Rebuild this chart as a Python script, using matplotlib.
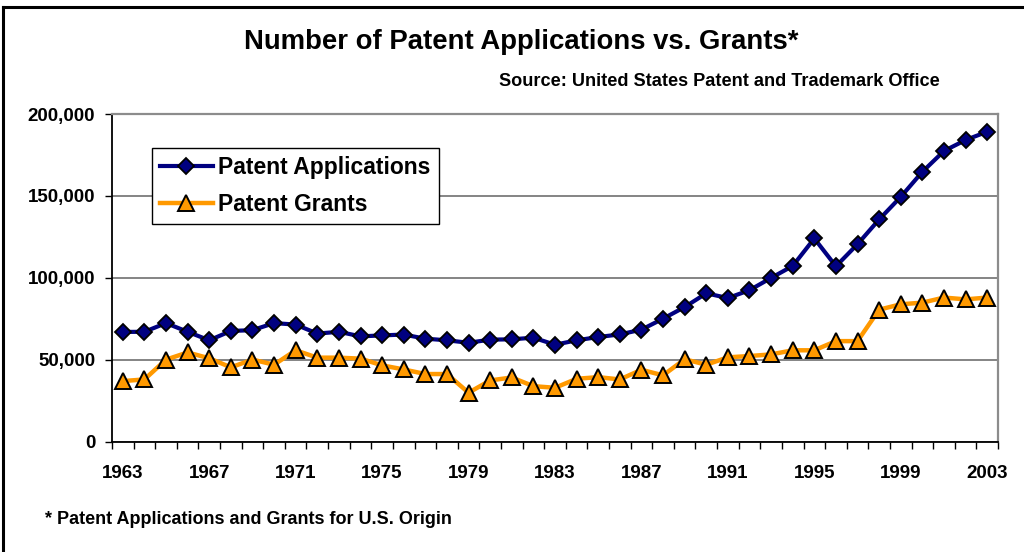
import matplotlib.pyplot as plt
from matplotlib.lines import Line2D
from matplotlib.ticker import FuncFormatter

# Data (U.S. origin)
years = list(range(1963, 2004))
applications = [
    66900, 67000, 72300, 67000, 61800, 67500, 68000, 72300, 71400, 65900,
    67000, 64200, 64800, 65300, 62800, 61800, 60300, 62200, 62400, 63400,
    59100, 61800, 63800, 65400, 68300, 75000, 82100, 90500, 87600, 92400,
    99900, 107200, 124000, 107000, 120500, 135600, 149400, 164700, 177400, 184100,
    189200,
]
grants = [
    36900, 37900, 50000, 54400, 50800, 45300, 50000, 46900, 55700, 51200,
    51200, 50600, 46500, 44000, 41200, 41200, 29800, 37300, 39100, 33800,
    32800, 38300, 39300, 37900, 43800, 40400, 50200, 46900, 51400, 52200,
    53200, 55700, 55700, 61300, 61300, 80500, 83800, 84800, 87900, 86800,
    87900,
]
y_ticks = [0, 50000, 100000, 150000, 200000]
label_years = list(range(1963, 2004, 4))

plt.rcParams['font.family'] = ['Liberation Sans', 'DejaVu Sans']
plt.rcParams['font.weight'] = 'bold'

fig = plt.figure(figsize=(10.24, 5.52), dpi=100)
ax = fig.add_axes([112 / 1024, 1 - 441.5 / 552, 886 / 1024, 327.5 / 552])

x = list(range(len(years)))
ax.plot(x, applications, color='#000080', lw=3, marker='D', ms=7.8,
        mfc='#000080', mec='black', mew=1.3, label='Patent Applications', zorder=4)
ax.plot(x, grants, color='#FF9900', lw=3.2, marker='^', ms=11,
        mfc='#FF9900', mec='black', mew=1.4, label='Patent Grants', zorder=3)

# Axes and grid
ax.set_xlim(-0.5, len(years) - 0.5)
ax.set_ylim(0, 200000)
ax.set_yticks(y_ticks)
ax.yaxis.set_major_formatter(FuncFormatter(lambda v, p: f"{int(v):,}"))
ax.grid(axis='y', color='#707070', lw=1.2)
ax.set_axisbelow(True)

ax.set_xticks([years.index(y) for y in label_years])
ax.set_xticklabels([str(y) for y in label_years])
ax.set_xticks([i - 0.5 for i in range(len(years) + 1)], minor=True)
ax.tick_params(axis='x', which='major', length=0, pad=17, labelsize=13.5)
ax.tick_params(axis='x', which='minor', length=5, width=1, color='black')
ax.tick_params(axis='y', length=5, width=1, pad=7, labelsize=13.5)

for side in ['left', 'bottom']:
    ax.spines[side].set_color('black')
    ax.spines[side].set_linewidth(1.3)
for side in ['top', 'right']:
    ax.spines[side].set_color('#8c8c8c')
    ax.spines[side].set_linewidth(1.6)

# Legend
leg = ax.legend(loc='upper left', bbox_to_anchor=(152 / 1024, 1 - 148 / 552),
                bbox_transform=fig.transFigure, fontsize=16.5, frameon=True,
                fancybox=False, edgecolor='black', framealpha=1,
                handlelength=2.3, handletextpad=0.25, labelspacing=0.6,
                borderpad=0.35, borderaxespad=0)
leg.get_frame().set_linewidth(1.0)

# Titles and notes
fig.text(521 / 1024, 1 - 42 / 552, 'Number of Patent Applications vs. Grants*',
         ha='center', va='center', fontsize=19.8, fontweight='bold')
fig.text(940 / 1024, 1 - 82 / 552, 'Source: United States Patent and Trademark Office',
         ha='right', va='center', fontsize=13.1, fontweight='bold')
fig.text(45 / 1024, 1 - 519 / 552, '* Patent Applications and Grants for U.S. Origin',
         ha='left', va='center', fontsize=13, fontweight='bold')

# Outer frame (left and top edges)
fig.add_artist(Line2D([3 / 1024, 3 / 1024], [0, 1 - 7 / 552], color='black', lw=2.2,
                      transform=fig.transFigure))
fig.add_artist(Line2D([3 / 1024, 1], [1 - 7 / 552, 1 - 7 / 552], color='black', lw=2.2,
                      transform=fig.transFigure))

fig.savefig('out.png', dpi=100)
